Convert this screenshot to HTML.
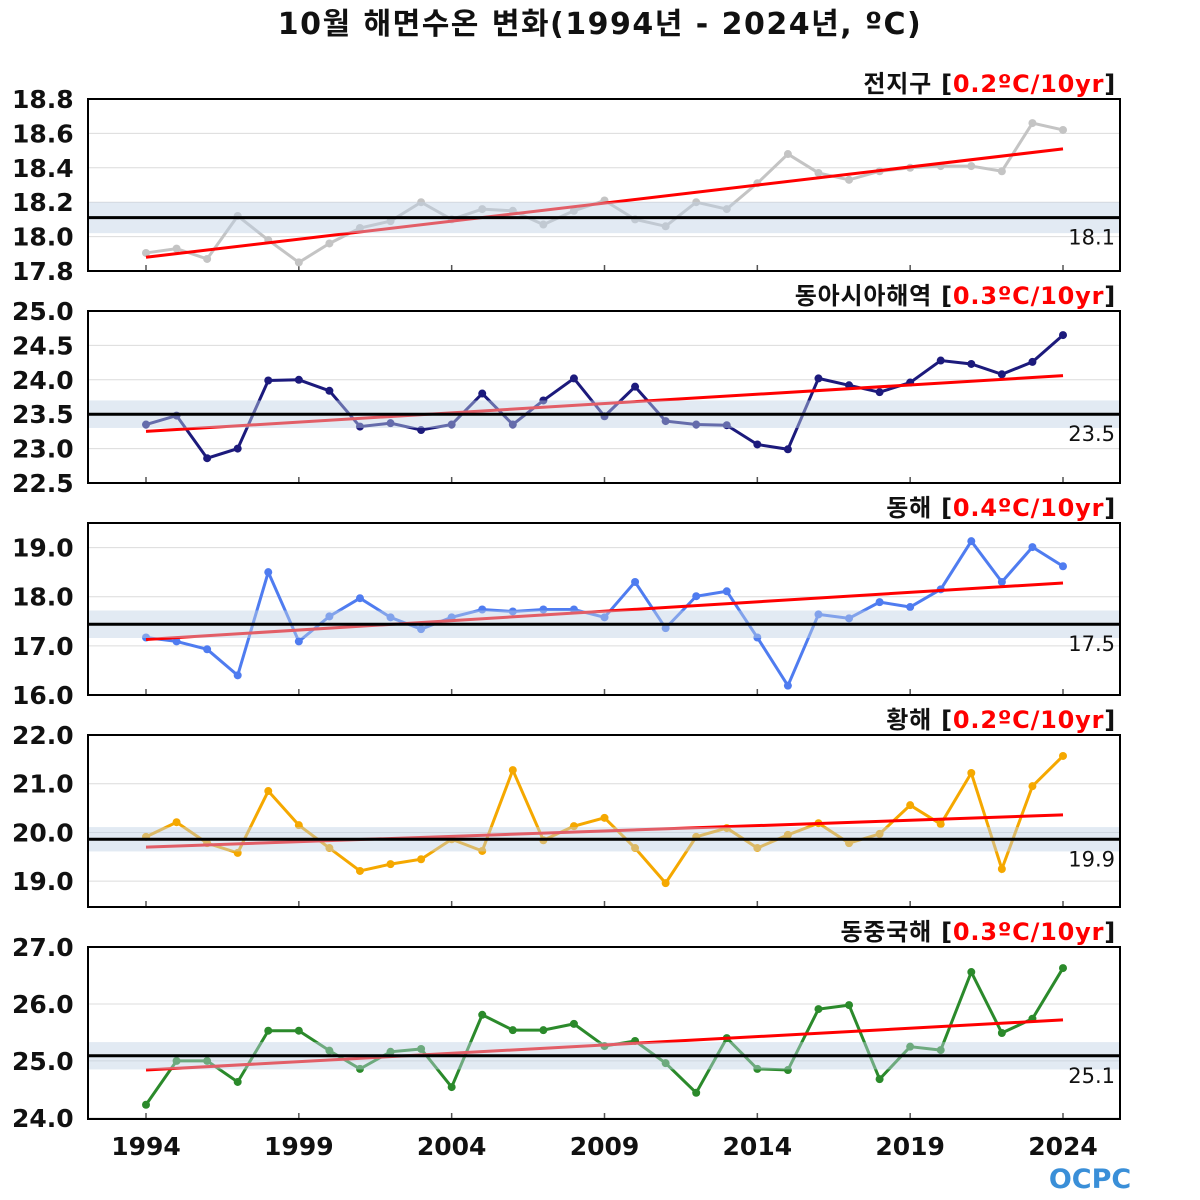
<!DOCTYPE html>
<html><head><meta charset="utf-8">
<style>
body{margin:0;background:#fff;}
svg{display:block;font-family:"DejaVu Sans","Noto Sans CJK KR",sans-serif;}
</style></head>
<body>
<svg id="chart" width="1200" height="1200" viewBox="0 0 1200 1200" xmlns="http://www.w3.org/2000/svg">
<text x="600" y="34" text-anchor="middle" font-size="30" font-weight="bold" letter-spacing="1.5" fill="#111">10월 해면수온 변화(1994년 - 2024년, ºC)</text>
<g id="panels"></g>
<text x="1090" y="1188" text-anchor="middle" font-size="27" font-weight="bold" fill="#3a8fd8">OCPC</text>
</svg>
<script>
const years = [];
for (let y = 1994; y <= 2024; y++) years.push(y);
const xTickYears = [1994, 1999, 2004, 2009, 2014, 2019, 2024];

const globalVals = [17.905,17.93,17.87,18.12,17.98,17.85,17.96,18.05,18.09,18.2,18.1,18.16,18.15,18.07,18.15,18.21,18.1,18.06,18.2,18.16,18.31,18.48,18.37,18.33,18.38,18.4,18.41,18.41,18.38,18.66,18.62];
const eastAsiaVals = [23.35,23.48,22.86,23.0,23.99,24.0,23.84,23.32,23.37,23.27,23.35,23.8,23.35,23.7,24.02,23.47,23.9,23.4,23.35,23.34,23.06,22.99,24.02,23.92,23.82,23.96,24.28,24.23,24.08,24.26,24.65];
const eastSeaVals = [17.17,17.09,16.93,16.4,18.5,17.09,17.6,17.97,17.58,17.34,17.58,17.74,17.7,17.74,17.74,17.58,18.3,17.36,18.01,18.11,17.17,16.19,17.64,17.56,17.89,17.79,18.15,19.13,18.3,19.01,18.62];
const yellowSeaVals = [19.91,20.21,19.78,19.58,20.85,20.15,19.68,19.21,19.35,19.45,19.86,19.62,21.28,19.84,20.13,20.3,19.68,18.96,19.91,20.09,19.68,19.95,20.19,19.78,19.97,20.56,20.17,21.22,19.25,20.95,21.57];
const ecsVals = [24.23,25.0,25.0,24.63,25.53,25.53,25.18,24.86,25.16,25.21,24.54,25.81,25.54,25.54,25.65,25.26,25.35,24.96,24.44,25.4,24.86,24.84,25.91,25.98,24.68,25.25,25.19,26.56,25.49,25.74,26.63];

const panelNames = ["전지구","동아시아해역","동해","황해","동중국해"];
const panelSlugs = ["global","east-asia","east-sea","yellow-sea","east-china-sea"];
const trendLabels = ["0.2","0.3","0.4","0.2","0.3"];
const baselines = [18.11, 23.5, 17.44, 19.86, 25.09];
const baselineLabels = ["18.1","23.5","17.5","19.9","25.1"];
const bandHalf = [0.09, 0.2, 0.28, 0.25, 0.24];
const trendStart = [17.88, 23.25, 17.13, 19.70, 24.84];
const trendEnd = [18.51, 24.06, 18.28, 20.36, 25.72];
const yMins = [17.8, 22.5, 16.0, 18.47, 23.98];
const yMaxs = [18.8, 25.0, 19.5, 22.0, 27.0];
const yTicks = [[17.8,18.0,18.2,18.4,18.6,18.8],[22.5,23.0,23.5,24.0,24.5,25.0],[16.0,17.0,18.0,19.0],[19.0,20.0,21.0,22.0],[24.0,25.0,26.0,27.0]];
const yTickText = [["17.8","18.0","18.2","18.4","18.6","18.8"],["22.5","23.0","23.5","24.0","24.5","25.0"],["16.0","17.0","18.0","19.0"],["19.0","20.0","21.0","22.0"],["24.0","25.0","26.0","27.0"]];
const seriesVals = [globalVals, eastAsiaVals, eastSeaVals, yellowSeaVals, ecsVals];
const colors = ["#c4c4c4","#1c1a7c","#4f7cf0","#f5a800","#2b8a2b"];

const NS = "http://www.w3.org/2000/svg";
const root = document.getElementById("panels");
const X0 = 88, X1 = 1120, TOPS = [99,311,523,735,947], H = 172;
function xs(yr){ return 146 + (yr - 1994) * (1063 - 146) / 30; }
function mk(tag, attrs, parent){ const e = document.createElementNS(NS, tag); for (const k in attrs) e.setAttribute(k, attrs[k]); parent.appendChild(e); return e; }

for (let p = 0; p < 5; p++) {
  const top = TOPS[p], bot = top + H;
  const ys = v => bot - (v - yMins[p]) / (yMaxs[p] - yMins[p]) * H;
  const g = mk("g", {}, root);
  
  
  yTicks[p].forEach((t, i) => {
    const y = ys(t);
    const gl = mk("line", {x1:X0, x2:X1, y1:y, y2:y, stroke:"#dcdcdc", "stroke-width":1}, g);
    
    
    const tl = mk("text", {x:12, y:y+9, "font-size":25, "font-weight":"bold", fill:"#111"}, g);
    
    
    tl.textContent = yTickText[p][i];
  });
  xTickYears.forEach(yr => {
    const tk = mk("line", {x1:xs(yr), x2:xs(yr), y1:bot-6, y2:bot, stroke:"#555", "stroke-width":1.5}, g);
    
    
  });
  const pts = years.map((yr, i) => xs(yr) + "," + ys(seriesVals[p][i])).join(" ");
  const line = mk("polyline", {points:pts, fill:"none", stroke:colors[p], "stroke-width":3}, g);
  
  
  years.forEach((yr, i) => {
    const c = mk("circle", {cx:xs(yr), cy:ys(seriesVals[p][i]), r:4, fill:colors[p]}, g);
    
    
  });
  const tr = mk("line", {x1:xs(1994), x2:xs(2024), y1:ys(trendStart[p]), y2:ys(trendEnd[p]), stroke:"#f00", "stroke-width":3}, g);
  
  
  const b1 = ys(baselines[p] + bandHalf[p]), b2 = ys(baselines[p] - bandHalf[p]);
  const band = mk("rect", {x:X0, y:b1, width:X1-X0, height:b2-b1, fill:"rgba(190,208,228,0.45)"}, g);
  
  
  const bl = mk("line", {x1:X0, x2:X1, y1:ys(baselines[p]), y2:ys(baselines[p]), stroke:"#000", "stroke-width":3}, g);
  
  
  const blt = mk("text", {x:1115, y:ys(baselines[p])+27, "text-anchor":"end", "font-size":21, fill:"#111"}, g);
  
  
  blt.textContent = baselineLabels[p];
  const fr = mk("rect", {x:X0, y:top, width:X1-X0, height:H, fill:"none", stroke:"#000", "stroke-width":2}, g);
  
  
  const ti = mk("text", {x:1116, y:top-7, "text-anchor":"end", "font-size":24, "font-weight":"bold", "letter-spacing":0.8, fill:"#111"}, g);
  
  
  ti.innerHTML = panelNames[p] + ' [<tspan fill="#f00">' + trendLabels[p] + 'ºC/10yr</tspan>]';
}
xTickYears.forEach(yr => {
  const t = mk("text", {x:xs(yr), y:1155, "text-anchor":"middle", "font-size":25, "font-weight":"bold", fill:"#111"}, root);
  
  
  t.textContent = yr;
});
</script>
</body></html>
